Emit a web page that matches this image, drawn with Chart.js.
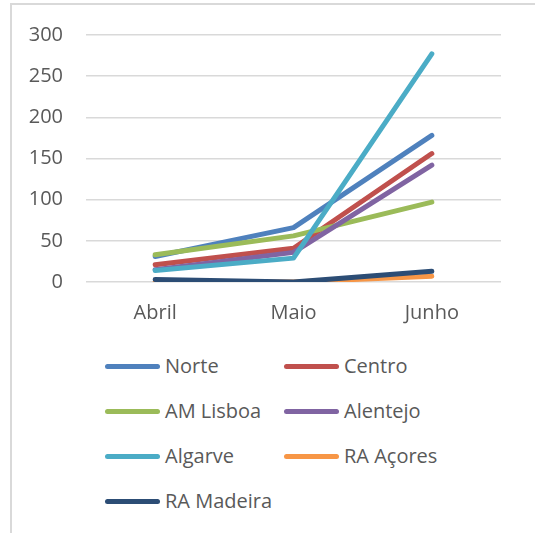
<!DOCTYPE html>
<html>
<head>
<meta charset="utf-8">
<script src="https://cdn.jsdelivr.net/npm/chart.js@4/dist/chart.umd.min.js"></script>
<style>
    body { margin: 0; background: #fff; }
    #page { position: relative; width: 535px; height: 533px; overflow: hidden; }
    #frame { position: absolute; left: 10px; top: 3px; right: -4px; bottom: -4px;
             border-left: 2px solid #d9d9d9; border-top: 2px solid #d9d9d9; }
    #chartBox { position: absolute; left: 0; top: 0; width: 535px; height: 344px; }
    #legend { position: absolute; left: 0; top: 344px; width: 535px;
              font-family: "Open Sans", sans-serif; font-size: 20px; color: #595959; }
    .item { position: absolute; height: 44px; line-height: 44px; white-space: nowrap; }
    .swatch { position: absolute; top: 20px; left: 0; width: 55px; height: 5px; border-radius: 3px; }
    .label { position: absolute; left: 60px; top: 0; }
</style>
</head>
<body>
<div id="page">
    <div id="frame"></div>
    <div id="chartBox"><canvas id="chart"></canvas></div>
    <div id="legend"></div>
</div>
<script>
const months = ["Abril", "Maio", "Junho"];

const norte     = [31, 66, 178];
const centro    = [21, 41, 156];
const amLisboa  = [33, 56, 97];
const alentejo  = [15, 36, 142];
const algarve   = [14, 29, 277];
const raAcores  = [0, 0, 7];
const raMadeira = [3, 0, 13];

const yTicks = [0, 50, 100, 150, 200, 250, 300];

const seriesNames  = ["Norte", "Centro", "AM Lisboa", "Alentejo", "Algarve", "RA Açores", "RA Madeira"];
const seriesData   = [norte, centro, amLisboa, alentejo, algarve, raAcores, raMadeira];
const seriesColors = ["#4F81BD", "#C0504D", "#9BBB59", "#8064A2", "#4BACC6", "#F79646", "#2C4D75"];

const textColor = "#595959";
const fontName = "'Open Sans', sans-serif";

buildChart();
buildLegend();

function buildChart()
{
    const datasets = [];
    for(let i = 0; i < seriesNames.length; i += 1)
    {
        datasets.push({
            label: seriesNames[i],
            data: seriesData[i],
            borderColor: seriesColors[i],
            backgroundColor: seriesColors[i],
            borderWidth: 5,
            borderCapStyle: "round",
            borderJoinStyle: "round",
            pointRadius: 0,
            pointHoverRadius: 0,
            tension: 0,
            fill: false,
            // excel draws the later series on top
            order: seriesNames.length - i
        });
    }

    new Chart(document.getElementById("chart"),
    {
        type: "line",
        data: { labels: months, datasets: datasets },
        options:
        {
            responsive: true,
            maintainAspectRatio: false,
            animation: false,
            events: [],
            layout: { padding: { top: 33, right: 34, bottom: 0, left: 0 } },
            plugins: { legend: { display: false }, tooltip: { enabled: false } },
            scales:
            {
                x:
                {
                    offset: true,
                    grid: { display: false, drawTicks: false },
                    border: { display: false },
                    ticks: { color: textColor, font: { family: fontName, size: 20 }, padding: 19 }
                },
                y:
                {
                    min: 0,
                    max: 300,
                    afterFit: function(scale) { scale.width = 86; },
                    afterBuildTicks: function(scale) { scale.ticks = yTicks.map(v => ({ value: v })); },
                    grid: { color: "#d9d9d9", lineWidth: 1.5, drawTicks: false },
                    border: { display: false },
                    ticks: { color: textColor, font: { family: fontName, size: 20 }, padding: 23 }
                }
            }
        }
    });
}

function buildLegend()
{
    const legend = document.getElementById("legend");
    const colX = [105, 284];

    for(let i = 0; i < seriesNames.length; i += 1)
    {
        const item = document.createElement("div");
        item.className = "item";
        item.style.left = colX[i % 2] + "px";
        item.style.top = (Math.floor(i / 2) * 45) + "px";

        const sw = document.createElement("div");
        sw.className = "swatch";
        sw.style.background = seriesColors[i];

        const lb = document.createElement("span");
        lb.className = "label";
        lb.textContent = seriesNames[i];

        item.appendChild(sw);
        item.appendChild(lb);
        legend.appendChild(item);
    }
}
</script>
</body>
</html>
